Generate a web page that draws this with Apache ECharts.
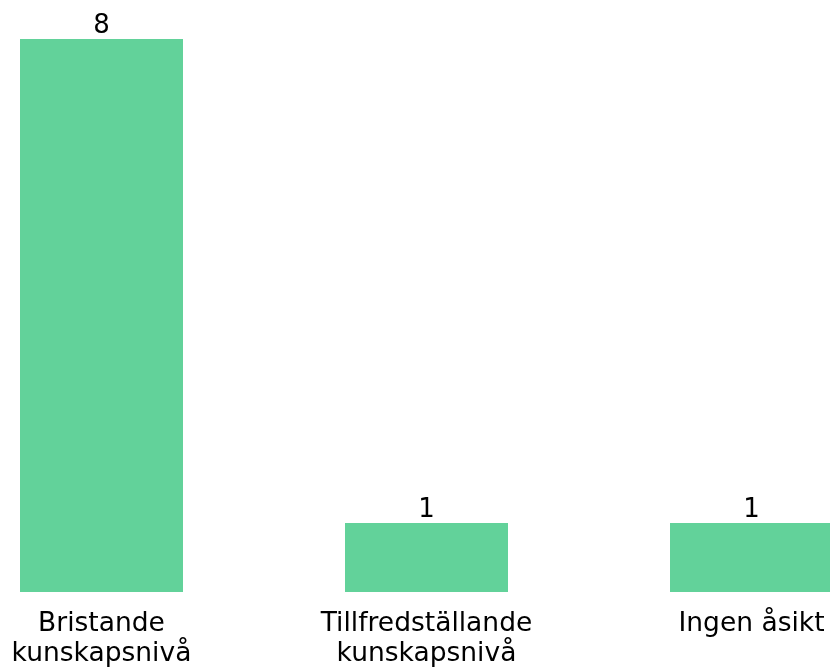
<!DOCTYPE html>
<html>
<head>
<meta charset="utf-8">
<script src="https://cdn.jsdelivr.net/npm/echarts@6/dist/echarts.min.js"></script>
<style>
  html, body { margin: 0; padding: 0; background: #ffffff; }
  #chart { width: 830px; height: 668px; }
</style>
</head>
<body>
<div id="chart"></div>
<script>
// Answer categories and counts
const categories = ['Bristande\nkunskapsnivå', 'Tillfredställande\nkunskapsnivå', 'Ingen åsikt'];
const counts = [8, 1, 1];

const chart = echarts.init(document.getElementById('chart'), null, { renderer: 'canvas' });

chart.setOption({
  backgroundColor: '#ffffff',
  animation: false,
  grid: {
    left: -61,
    right: -84,
    top: 39,
    bottom: 76,
    containLabel: false,
    outerBoundsMode: 'none'
  },
  xAxis: {
    type: 'category',
    data: categories,
    axisLine: { show: false },
    axisTick: { show: false },
    axisLabel: {
      interval: 0,
      margin: 17,
      color: '#000000',
      fontFamily: 'DejaVu Sans',
      fontSize: 26.5,
      lineHeight: 30
    }
  },
  yAxis: {
    type: 'value',
    min: 0,
    max: 8,
    show: false,
    splitLine: { show: false }
  },
  series: [{
    type: 'bar',
    data: counts,
    barWidth: 163,
    itemStyle: { color: '#62d29a' },
    label: {
      show: true,
      position: 'top',
      distance: 0,
      color: '#000000',
      fontFamily: 'DejaVu Sans',
      fontSize: 26
    }
  }]
});
</script>
</body>
</html>
